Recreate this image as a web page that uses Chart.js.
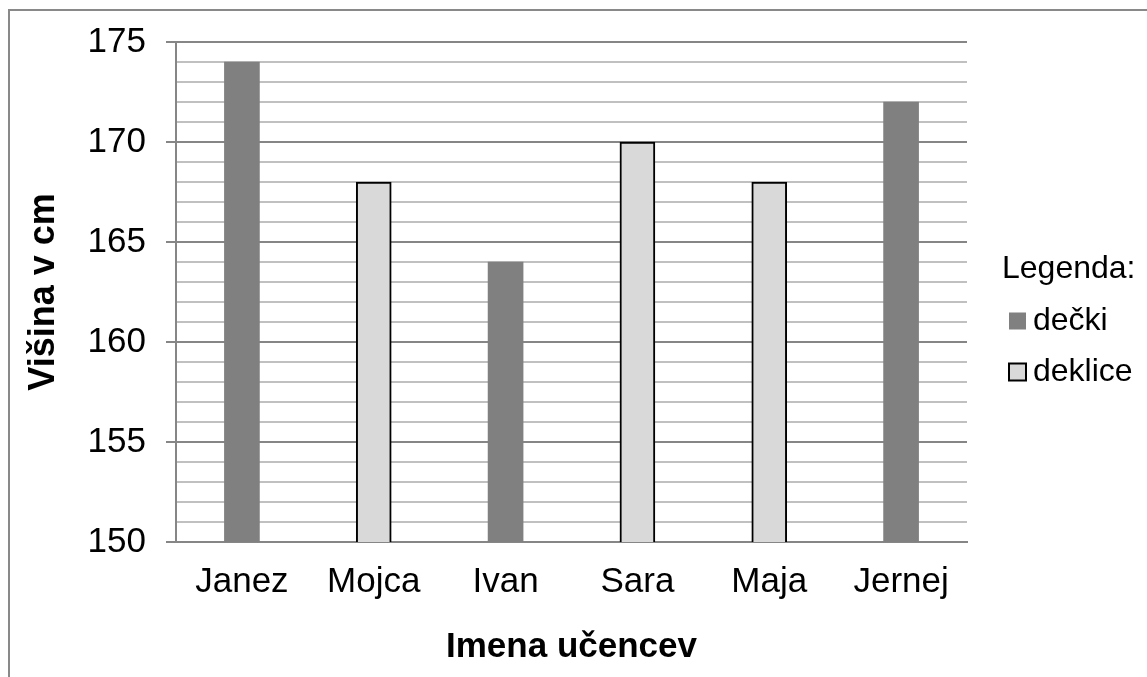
<!DOCTYPE html>
<html>
<head>
<meta charset="utf-8">
<script src="https://cdn.jsdelivr.net/npm/chart.js@4.4.1/dist/chart.umd.min.js"></script>
<style>
  html, body { margin: 0; padding: 0; background: #fff; overflow: hidden; }
  #frame { position: absolute; left: 8px; top: 9px; width: 1300px; height: 900px;
           border-top: 2px solid #898989; border-left: 2px solid #898989; }
  #wrap { position: absolute; left: 0; top: 0; width: 1147px; height: 677px; }
</style>
</head>
<body>
<div id="frame"></div>
<div id="wrap"><canvas id="heightChart"></canvas></div>
<script>
// chart data
const names = ['Janez', 'Mojca', 'Ivan', 'Sara', 'Maja', 'Jernej'];
const boys = [174, null, 164, null, null, 172];
const girls = [null, 168, null, 170, 168, null];
const seriesLabels = ['dečki', 'deklice'];
const legendTitle = 'Legenda:';
const yMin = 150, yMax = 175, yStep = 1, yLabelStep = 5;

const FONT = 'Arial, "Liberation Sans", sans-serif';

// Excel-like legend drawn beside the plot
const sideLegend = {
  id: 'sideLegend',
  afterDraw(chart) {
    const ctx = chart.ctx;
    const area = chart.chartArea;
    const midY = (area.top + area.bottom) / 2;
    const x0 = area.right + 35;
    ctx.save();
    ctx.fillStyle = '#000';
    ctx.textBaseline = 'middle';
    ctx.textAlign = 'left';
    ctx.font = '32px ' + FONT;
    ctx.fillText(legendTitle, x0, midY - 23);
    chart.data.datasets.forEach((ds, i) => {
      const cy = midY + 29 + i * 51;
      const bx = x0 + 7, size = 17;
      ctx.fillStyle = ds.backgroundColor;
      ctx.fillRect(bx, cy - size / 2, size, size);
      if (ds.borderWidth) {
        ctx.strokeStyle = ds.borderColor;
        ctx.lineWidth = 2;
        ctx.strokeRect(bx, cy - size / 2, size, size);
      }
      ctx.fillStyle = '#000';
      ctx.fillText(ds.label, bx + size + 7, cy);
    });
    ctx.restore();
  }
};

const ctx = document.getElementById('heightChart').getContext('2d');
new Chart(ctx, {
  type: 'bar',
  data: {
    labels: names,
    datasets: [
      {
        label: seriesLabels[0],
        data: boys,
        backgroundColor: '#808080',
        borderWidth: 0,
        barThickness: 35,
      },
      {
        label: seriesLabels[1],
        data: girls,
        backgroundColor: '#d9d9d9',
        borderColor: '#000',
        borderWidth: 2,
        barThickness: 35,
      },
    ],
  },
  options: {
    responsive: true,
    maintainAspectRatio: false,
    animation: false,
    layout: { padding: { top: 42, left: 0, right: 180, bottom: 0 } },
    plugins: {
      legend: { display: false },
      tooltip: { enabled: false },
    },
    scales: {
      x: {
        stacked: true,
        grid: { display: false, drawTicks: false },
        border: { display: true, color: '#868686', width: 2 },
        ticks: { color: '#000', font: { family: FONT, size: 35 }, padding: 19 },
        title: {
          display: true,
          text: 'Imena učencev',
          color: '#000',
          font: { family: FONT, size: 35, weight: 'bold', lineHeight: 1 },
          padding: { bottom: 12 },
        },
        afterFit(scale) { scale.height = 135; },
      },
      y: {
        min: yMin,
        max: yMax,
        grid: {
          color: (c) => (c.tick && c.tick.value % yLabelStep === 0 ? '#868686' : '#c0c0c0'),
          tickColor: (c) => (c.tick && c.tick.value % yLabelStep === 0 ? '#868686' : 'rgba(0,0,0,0)'),
          lineWidth: 2,
          tickLength: 10,
        },
        border: { display: true, color: '#868686', width: 2 },
        ticks: {
          stepSize: yStep,
          autoSkip: false,
          color: '#000',
          font: { family: FONT, size: 35 },
          padding: 20,
          callback: (v) => (v % yLabelStep === 0 ? v : ''),
        },
        title: {
          display: true,
          text: 'Višina v cm',
          color: '#000',
          font: { family: FONT, size: 36, weight: 'bold', lineHeight: 1 },
          padding: { top: 26 },
        },
        afterFit(scale) { scale.width = 176; },
      },
    },
  },
  plugins: [sideLegend],
});
</script>
</body>
</html>
